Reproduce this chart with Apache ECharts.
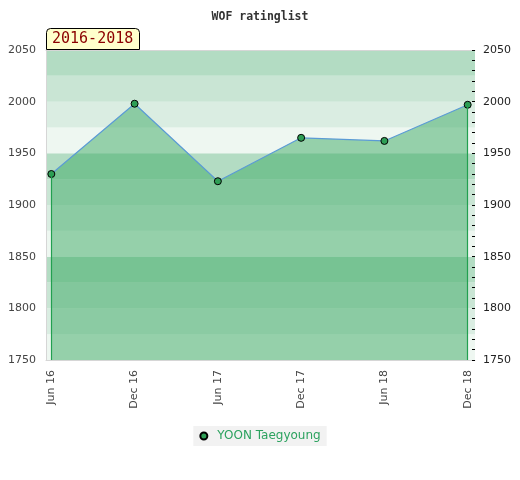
<!DOCTYPE html>
<html>
<head>
<meta charset="utf-8">
<title>WOF ratinglist</title>
<script src="https://cdn.jsdelivr.net/npm/echarts@6/dist/echarts.min.js"></script>
<style>
  html, body { margin: 0; padding: 0; background: #fff; }
  #graph { width: 520px; height: 480px; }
</style>
</head>
<body>
<div id="graph"></div>
<script>
// chart data
var periods = ['Jun 16', 'Dec 16', 'Jun 17', 'Dec 17', 'Jun 18', 'Dec 18']
var ratings = [1930, 1998, 1923, 1965, 1962, 1997]
var playerName = 'YOON Taegyoung'
var rangeLabel = '2016-2018'
var yMin = 1750
var yMax = 2050

var bandColors = ['#eef7f1', '#daede2', '#c9e5d4', '#b3dcc3']   // from bottom up, 25 pts each

function plain(v) {
    return String(v)
}

function makeGraph() {
    var chart = echarts.init(document.getElementById('graph'))

    var points = []
    for (var i in ratings) {
        points.push([+i, ratings[i]])
    }
    var last = ratings.length - 1
    // the area has a green edge at both ends
    var edges = [
        [{ coord: [0, yMin] }, { coord: [0, ratings[0]] }],
        [{ coord: [last, yMin] }, { coord: [last, ratings[last]] }]
    ]
    var labelAt = []
    for (var j in periods) labelAt.push(+j)

    var option = {
        animation: false,
        title: [
            {
                text: 'WOF ratinglist',
                left: 'center',
                top: 6,
                textStyle: { fontFamily: 'DejaVu Sans Mono', fontWeight: 'bold', fontSize: 11.5, color: '#333' }
            },
            {
                text: rangeLabel,
                left: 46,
                top: 28,
                padding: [3, 6, 3, 6],
                backgroundColor: '#ffffcc',
                borderColor: '#000',
                borderWidth: 1,
                borderRadius: [4, 4, 0, 0],
                textStyle: { fontFamily: 'DejaVu Sans Mono', fontWeight: 'normal', fontSize: 15, color: '#8b0000', lineHeight: 16 }
            }
        ],
        legend: {
            bottom: 34,
            left: 'center',
            backgroundColor: '#f2f2f2',
            padding: [4, 6, 4, 6],
            icon: 'circle',
            itemWidth: 7,
            itemHeight: 7,
            textStyle: { fontFamily: 'DejaVu Sans', fontSize: 12, color: '#2ca25f', padding: [0, 0, 0, 5] },
            data: [playerName]
        },
        grid: { left: 46, right: 45, top: 50, bottom: 120 },
        xAxis: [
            {
                type: 'value',
                min: -0.064,
                max: 5.088,
                splitLine: { show: false },
                axisTick: { show: false },
                axisLine: { show: true, onZero: false, lineStyle: { color: '#d6d6d6', width: 1 } },
                axisLabel: {
                    customValues: labelAt,
                    rotate: 90,
                    margin: 10,
                    fontFamily: 'DejaVu Sans',
                    fontSize: 11,
                    color: '#444',
                    formatter: function (v) { return periods[Math.round(v)] }
                }
            },
            {
                type: 'value',
                position: 'top',
                min: -0.064,
                max: 5.088,
                splitLine: { show: false },
                axisTick: { show: false },
                axisLabel: { show: false },
                axisLine: { show: true, onZero: false, lineStyle: { color: '#d6d6d6', width: 1 } }
            }
        ],
        yAxis: [
            {
                // background stripes only
                type: 'value',
                position: 'left',
                min: yMin,
                max: yMax,
                interval: 25,
                axisLine: { show: false, onZero: false },
                axisTick: { show: false },
                axisLabel: { show: false },
                splitLine: { show: false },
                splitArea: { show: true, areaStyle: { color: bandColors } }
            },
            {
                type: 'value',
                position: 'right',
                offset: -3,
                min: yMin,
                max: yMax,
                interval: 50,
                splitLine: { show: false },
                axisLine: { show: false, onZero: false },
                axisTick: { show: true, length: 3, lineStyle: { color: '#000' } },
                minorTick: { show: true, splitNumber: 5, length: 3, lineStyle: { color: '#000' } },
                axisLabel: { margin: 11, fontFamily: 'DejaVu Sans', fontSize: 11, color: '#222', formatter: plain }
            },
            {
                type: 'value',
                position: 'left',
                min: yMin,
                max: yMax,
                interval: 50,
                splitLine: { show: false },
                axisTick: { show: false },
                axisLine: { show: true, onZero: false, lineStyle: { color: '#d6d6d6', width: 1 } },
                axisLabel: { margin: 10, fontFamily: 'DejaVu Sans', fontSize: 11, color: '#444', formatter: plain }
            }
        ],
        series: [
            {
                name: playerName,
                type: 'line',
                data: points,
                yAxisIndex: 2,
                symbol: 'circle',
                symbolSize: 7,
                lineStyle: { color: '#5b9bd5', width: 1.2 },
                itemStyle: { color: '#2e9e55', borderColor: '#000', borderWidth: 1 },
                areaStyle: { color: 'rgba(60,170,100,0.5)', opacity: 1, origin: 'start' },
                markLine: {
                    silent: true,
                    symbol: 'none',
                    label: { show: false },
                    emphasis: { disabled: true },
                    lineStyle: { color: '#22a050', width: 1.2, type: 'solid', opacity: 1 },
                    data: edges
                },
                z: 3
            }
        ]
    }
    chart.setOption(option)
}

makeGraph()
</script>
</body>
</html>
